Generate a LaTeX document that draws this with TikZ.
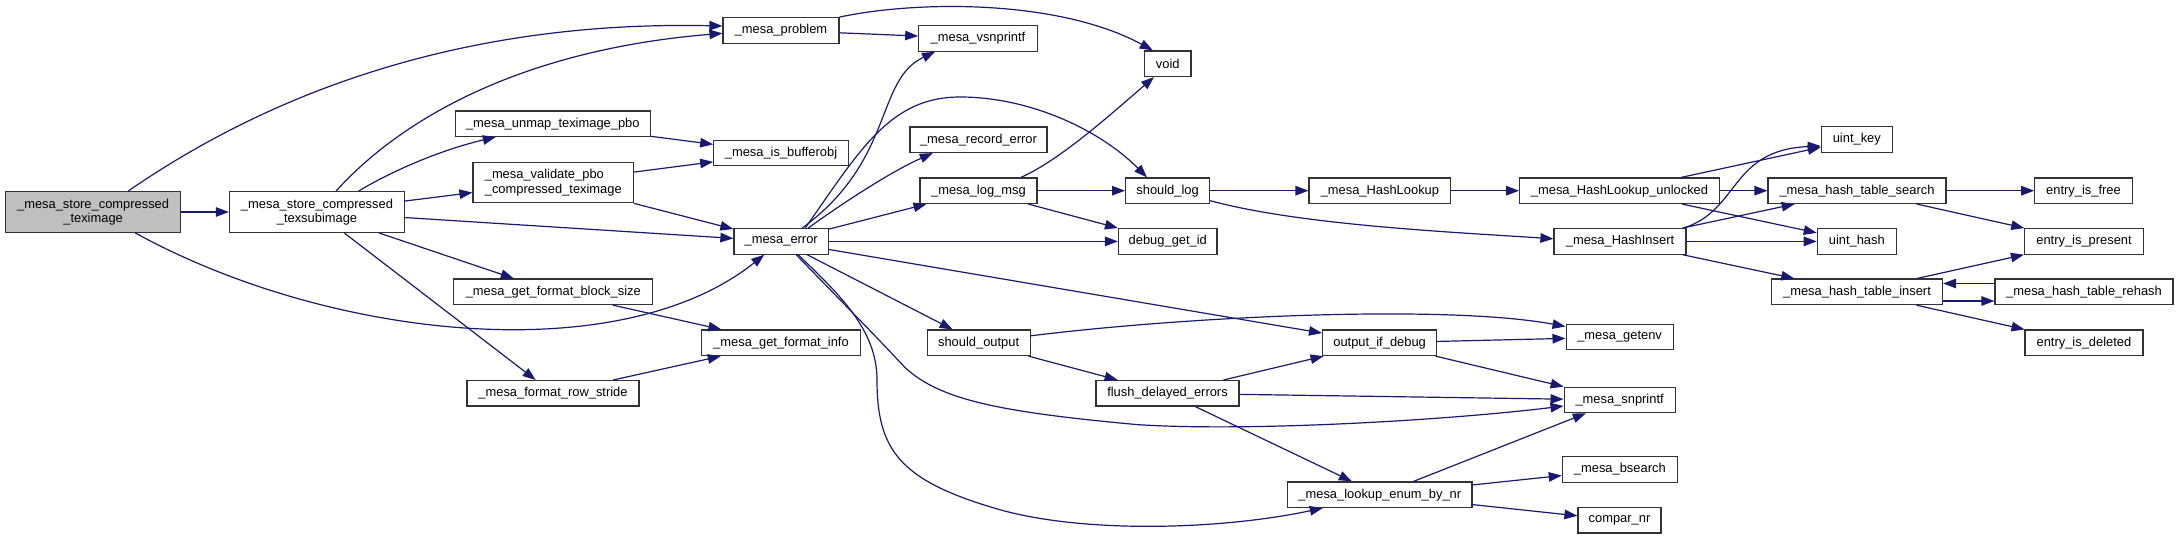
\documentclass[tikz,border=0pt]{standalone}
\usepackage{fontspec}
\setmainfont{Liberation Sans}
\usetikzlibrary{arrows.meta}
\definecolor{edgeblue}{HTML}{191970}
\definecolor{rootgray}{HTML}{BFBFBF}
\tikzset{
  fn/.style={draw=black!80, line width=1.2pt, fill=white, inner sep=0pt, align=center,
    font=\fontsize{12.9}{14.5}\selectfont, minimum height=25.5pt},
  fn2/.style={fn, minimum height=40.5pt},
  rootfn/.style={fill=rootgray},
  call/.style={draw=edgeblue, line width=1.2pt, -{Triangle[length=13pt,width=9.5pt]}},
}
\begin{document}
\begin{tikzpicture}[x=1pt,y=-1pt]
\useasboundingbox (0,0) rectangle (2179,538);
% nodes
\node[fn2,rootfn,minimum width=175pt] (A) at (93.1,212) {\_mesa\_store\_compressed\\\_teximage};
\node[fn2,minimum width=175pt] (B) at (317,212) {\_mesa\_store\_compressed\\\_texsubimage};
\node[fn,minimum width=195pt] (unmap) at (552.8,123.7) {\_mesa\_unmap\_teximage\_pbo};
\node[fn2,align=left,minimum width=160.6pt] (validate) at (553.3,182.5) {\_mesa\_validate\_pbo\\\_compressed\_teximage};
\node[fn,minimum width=199pt] (blocksize) at (553.3,291.8) {\_mesa\_get\_format\_block\_size};
\node[fn,minimum width=172pt] (rowstride) at (553,393.3) {\_mesa\_format\_row\_stride};
\node[fn,minimum width=116pt] (problem) at (781,30.4) {\_mesa\_problem};
\node[fn,minimum width=118.5pt] (vsnprintf) at (978,38.5) {\_mesa\_vsnprintf};
\node[fn,minimum width=46.5pt] (void) at (1167.8,63.7) {void};
\node[fn,minimum width=134.5pt] (isbuf) at (781,153.1) {\_mesa\_is\_bufferobj};
\node[fn,minimum width=137pt] (recerr) at (978.5,139.7) {\_mesa\_record\_error};
\node[fn,minimum width=117pt] (logmsg) at (978.4,190.7) {\_mesa\_log\_msg};
\node[fn,minimum width=84pt] (shouldlog) at (1167.6,190.7) {should\_log};
\node[fn,minimum width=94.5pt] (error) at (781.2,241.4) {\_mesa\_error};
\node[fn,minimum width=98.5pt] (debugid) at (1167.8,241.4) {debug\_get\_id};
\node[fn,minimum width=159pt] (formatinfo) at (781,342.8) {\_mesa\_get\_format\_info};
\node[fn,minimum width=103pt] (shouldout) at (978.6,342.8) {should\_output};
\node[fn,minimum width=143pt] (flush) at (1167.5,393.3) {flush\_delayed\_errors};
\node[fn,minimum width=184.5pt] (lookup) at (1379.8,494.7) {\_mesa\_lookup\_enum\_by\_nr};
\node[fn,minimum width=114pt] (outdebug) at (1379.6,342.8) {output\_if\_debug};
\node[fn,minimum width=141.7pt] (hashlookup) at (1379.9,190.7) {\_mesa\_HashLookup};
\node[fn,minimum width=199.7pt] (unlocked) at (1619.5,190.7) {\_mesa\_HashLookup\_unlocked};
\node[fn,minimum width=71pt] (uintkey) at (1856.8,139.5) {uint\_key};
\node[fn,minimum width=178pt] (search) at (1857,190.7) {\_mesa\_hash\_table\_search};
\node[fn,minimum width=97.4pt] (isfree) at (2083.5,190.7) {entry\_is\_free};
\node[fn,minimum width=132pt] (hashinsert) at (1620,241.4) {\_mesa\_HashInsert};
\node[fn,minimum width=79pt] (uinthash) at (1856.8,241.4) {uint\_hash};
\node[fn,minimum width=119pt] (present) at (2084,241.4) {entry\_is\_present};
\node[fn,minimum width=171pt] (tinsert) at (1857,291.8) {\_mesa\_hash\_table\_insert};
\node[fn,minimum width=178pt] (rehash) at (2084,291.8) {\_mesa\_hash\_table\_rehash};
\node[fn,minimum width=118pt] (deleted) at (2083.9,342.8) {entry\_is\_deleted};
\node[fn,minimum width=107pt] (getenv) at (1619.6,337.1) {\_mesa\_getenv};
\node[fn,minimum width=111pt] (snprintf) at (1619.6,400) {\_mesa\_snprintf};
\node[fn,minimum width=115pt] (bsearch) at (1619.8,469.4) {\_mesa\_bsearch};
\node[fn,minimum width=83pt] (compar) at (1619.5,520.3) {compar\_nr};
% curved edges
\draw[call] ([xshift=35pt]A.north) .. controls (260,100) and (450,20) .. ([yshift=4.4pt]problem.west);
\draw[call] ([xshift=19pt]B.north) .. controls (400,120) and (520,50) .. ([yshift=-2.9pt]problem.west);
\draw[call] ([xshift=42pt]A.south) .. controls (330,340) and (620,370) .. ([xshift=-17pt]error.south);
\draw[call] ([xshift=41.5pt]B.north) .. controls (390,172) and (440,150) .. ([xshift=-57pt]unmap.south);
\draw[call] (problem.north east) .. controls (920,0) and (1060,0) .. ([xshift=-15pt]void.north);
\draw[call] ([xshift=21pt]error.north) .. controls (895,160) and (875,80) .. ([xshift=-43pt]vsnprintf.south);
\draw[call] ([xshift=24pt]error.north) .. controls (860,150) and (890,97) .. (960,97) .. controls (1030,97) and (1100,130) .. ([xshift=-20.6pt]shouldlog.north);
\draw[call] ([xshift=27pt]error.north) .. controls (840,205) and (890,172) .. ([xshift=-45.7pt]recerr.south);
\draw[call] ([xshift=15pt]error.south) .. controls (840,300) and (870,330) .. (905,367.5) .. controls (940,400) and (1000,412) .. (1137,424.6) .. controls (1250,432) and (1450,420) .. ([yshift=-6pt]snprintf.west);
\draw[call] ([xshift=17pt]error.south) .. controls (840,295) and (877,330) .. (877,380) .. controls (877,450) and (900,480) .. (994,508) .. controls (1080,534) and (1220,530) .. ([xshift=-57pt]lookup.south);
\draw[call] ([xshift=42.6pt]logmsg.north) .. controls (1060,160) and (1110,115) .. ([xshift=-13.8pt]void.south);
\draw[call] ([yshift=-10pt]shouldlog.east) .. controls (1300,225) and (1450,232) .. ([yshift=2.6pt]hashinsert.west);
\draw[call] ([xshift=-3pt]hashinsert.north east) .. controls (1740,210) and (1730,150) .. ([yshift=-6.5pt]uintkey.west);
\draw[call] ([yshift=7pt]shouldout.east) .. controls (1200,315) and (1450,305) .. ([yshift=10.6pt]getenv.west);
\draw[call] ([yshift=-9.2pt]tinsert.east) -- ([yshift=-9.2pt]rehash.west);
\draw[call] ([yshift=8.3pt]rehash.west) -- ([yshift=8.3pt]tinsert.east);
% straight edges
\foreach \s/\t in {A/B, B/validate, B/error, B/blocksize, B/rowstride, unmap/isbuf, validate/isbuf,
  validate/error, blocksize/formatinfo, rowstride/formatinfo, problem/vsnprintf, error/logmsg,
  error/debugid, error/shouldout, error/outdebug, logmsg/shouldlog, logmsg/debugid,
  shouldlog/hashlookup, hashlookup/unlocked, unlocked/uintkey, unlocked/search, unlocked/uinthash,
  hashinsert/search, hashinsert/uinthash, hashinsert/tinsert, search/isfree, search/present,
  tinsert/present, tinsert/deleted, shouldout/flush, outdebug/getenv, outdebug/snprintf,
  flush/outdebug, flush/snprintf, flush/lookup, lookup/snprintf, lookup/bsearch, lookup/compar}
  \draw[call] (\s) -- (\t);
\end{tikzpicture}
\end{document}
